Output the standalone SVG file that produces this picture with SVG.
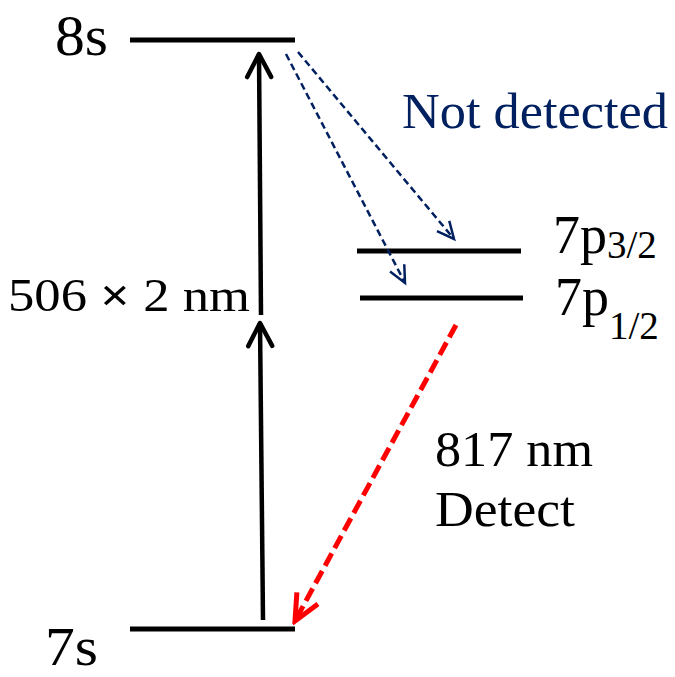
<svg xmlns="http://www.w3.org/2000/svg" width="675" height="677" viewBox="0 0 675 677">
<style>
.lvl{stroke:#000;stroke-width:5;fill:none}
.t{font-family:"Liberation Serif","Times New Roman",serif;fill:#000}
.nd{fill:#002060}
.up{stroke:#000;stroke-width:4.5;fill:none}
.blue{stroke:#002060;stroke-width:2.5;stroke-dasharray:7 4;fill:none}
.red{stroke:#ff0000;stroke-width:5;stroke-dasharray:14 6;fill:none}
</style>
<defs>
<marker id="ab" markerUnits="userSpaceOnUse" viewBox="-30 -16 34 32" refX="0" refY="0" markerWidth="34" markerHeight="32" orient="auto">
<polyline points="-23,-12 0,0 -23,12" fill="none" stroke="#000" stroke-width="4.5" stroke-linecap="round" stroke-linejoin="round"/>
</marker>
<marker id="bb" markerUnits="userSpaceOnUse" viewBox="-24 -12 28 24" refX="0" refY="0" markerWidth="28" markerHeight="24" orient="auto">
<polyline points="-17,-8 0,0 -17,8" fill="none" stroke="#002060" stroke-width="2.5" stroke-linejoin="miter"/>
</marker>
<marker id="rb" markerUnits="userSpaceOnUse" viewBox="-32 -18 36 36" refX="0" refY="0" markerWidth="36" markerHeight="36" orient="auto">
<polyline points="-26,-12 0,0 -26,12" fill="none" stroke="#ff0000" stroke-width="5" stroke-linejoin="miter"/>
</marker>
</defs>
<g id="level-8s">
<line class="lvl" x1="130" y1="40" x2="295" y2="40"/>
<text class="t" x="55" y="55" font-size="56" textLength="53" lengthAdjust="spacingAndGlyphs">8s</text>
</g>
<g id="level-7p32">
<line class="lvl" x1="357" y1="251" x2="521" y2="251"/>
<text class="t" x="553" y="253" font-size="54">7p<tspan font-size="39" dy="5">3/2</tspan></text>
</g>
<g id="level-7p12">
<line class="lvl" x1="360" y1="298" x2="523" y2="298"/>
<text class="t" x="555" y="315" font-size="54">7p<tspan font-size="39" dy="24">1/2</tspan></text>
</g>
<g id="level-7s">
<line class="lvl" x1="130" y1="629" x2="295" y2="629"/>
<text class="t" x="45" y="665" font-size="55" textLength="53" lengthAdjust="spacingAndGlyphs">7s</text>
</g>
<g id="labels">
<text class="t" x="8" y="311" font-size="46" textLength="242" lengthAdjust="spacingAndGlyphs">506 <tspan font-weight="bold">×</tspan> 2 nm</text>
<text class="t nd" x="402" y="128" font-size="50" textLength="266" lengthAdjust="spacingAndGlyphs">Not detected</text>
<text class="t" x="435" y="466" font-size="50" textLength="158" lengthAdjust="spacingAndGlyphs">817 nm</text>
<text class="t" x="435" y="526" font-size="50" textLength="140" lengthAdjust="spacingAndGlyphs">Detect</text>
</g>
<g id="connectors">
<line class="up" x1="261" y1="315" x2="259" y2="54" marker-end="url(#ab)"/>
<line class="up" x1="263" y1="620" x2="260" y2="323" marker-end="url(#ab)"/>
<line class="blue" x1="286" y1="54" x2="405" y2="283" marker-end="url(#bb)"/>
<line class="blue" x1="298" y1="52" x2="454" y2="239" marker-end="url(#bb)"/>
<line class="red" x1="456" y1="325" x2="295" y2="621" marker-end="url(#rb)"/>
</g>
</svg>
